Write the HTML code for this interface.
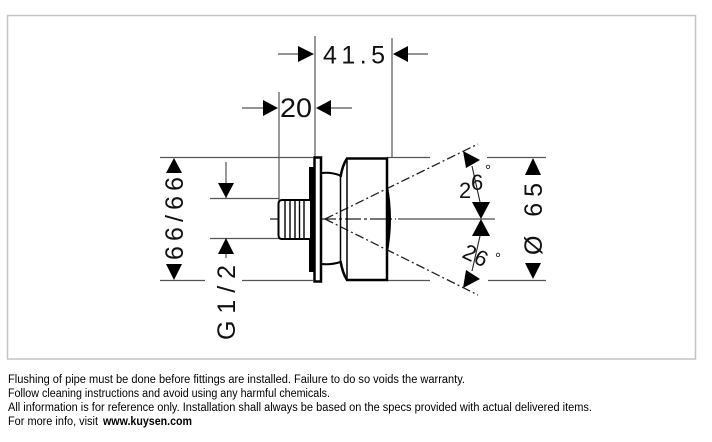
<!DOCTYPE html>
<html><head><meta charset="utf-8"><style>
html,body{margin:0;padding:0;background:#fff;width:712px;height:442px;overflow:hidden}
svg{display:block}
</style></head><body>
<svg width="712" height="442" viewBox="0 0 712 442" xmlns="http://www.w3.org/2000/svg">
<rect x="7.5" y="15.5" width="688" height="343.5" fill="#fff" stroke="#c4c4c4" stroke-width="1.5"/>

<!-- extension / dimension lines -->
<g stroke="#555" stroke-width="1.2" fill="none">
  <line x1="160" y1="157.5" x2="313" y2="157.5"/>
  <line x1="387" y1="157.5" x2="430" y2="157.5"/>
  <line x1="487" y1="157.5" x2="546" y2="157.5"/>
  <line x1="160" y1="280.5" x2="205" y2="280.5"/>
  <line x1="242" y1="280.5" x2="313" y2="280.5"/>
  <line x1="387" y1="280.5" x2="430" y2="280.5"/>
  <line x1="488" y1="280.5" x2="546" y2="280.5"/>
  <line x1="210" y1="198.5" x2="279" y2="198.5"/>
  <line x1="210" y1="238.5" x2="279" y2="238.5"/>
  <line x1="279" y1="92" x2="279" y2="200"/>
  <line x1="315" y1="36" x2="315" y2="157"/>
  <line x1="392" y1="38" x2="392" y2="158"/>
  <line x1="278" y1="54" x2="300" y2="54"/>
  <line x1="405" y1="54" x2="428" y2="54"/>
  <line x1="242" y1="108" x2="264" y2="108"/>
  <line x1="328" y1="108" x2="352" y2="108"/>
  <line x1="226" y1="162" x2="226" y2="198"/>
  <line x1="226" y1="238" x2="226" y2="258"/>
</g>

<!-- arrowheads -->
<g fill="#000">
  <polygon points="314,54 298,46 298,62"/>
  <polygon points="393,54 408,46 408,62"/>
  <polygon points="278,108 263,100 263,116"/>
  <polygon points="316,108 331,100 331,116"/>
  <polygon points="174,158 166,173 182,173"/>
  <polygon points="174,280 166,264 182,264"/>
  <polygon points="226,198 218,183 234,183"/>
  <polygon points="226,238 218,254 234,254"/>
  <polygon points="533,158 525,175 541,175"/>
  <polygon points="533,279 525,263 541,263"/>
  <polygon points="481,219 472,202 490,202"/>
  <polygon points="481,219 472,236 490,236"/>
  <polygon points="463,151 480,160 466,168"/>
  <polygon points="463,288 480,279 466,270"/>
</g>

<!-- angle dimension lines -->
<g stroke="#222" stroke-width="1.1" fill="none">
  <line x1="472" y1="166" x2="480" y2="202"/>
  <line x1="480" y1="236" x2="472" y2="271"/>
  <line x1="398" y1="219" x2="495" y2="219"/>
</g>

<!-- dashed construction lines -->
<g stroke="#222" stroke-width="1.3" fill="none">
  <line x1="325" y1="219" x2="478" y2="144" stroke-dasharray="9 3 2 3"/>
  <line x1="325" y1="219" x2="478" y2="295" stroke-dasharray="9 3 2 3"/>
  <line x1="270" y1="219" x2="396" y2="219" stroke-dasharray="16 3 3 3"/>
</g>

<!-- object -->
<g stroke="#000" fill="none">
  <rect x="309" y="167" width="4.5" height="105" fill="#000" stroke="none"/>
  <rect x="314.5" y="157.5" width="6.5" height="124" fill="#fff" stroke-width="2.5"/>
  <path d="M310,200 L282,200 Q278.5,200 278.5,204 L278.5,235 Q278.5,239 282,239 L310,239" fill="#fff" stroke-width="2"/>
  <g stroke-width="1.4">
    <line x1="285" y1="201" x2="285" y2="238"/>
    <line x1="290" y1="201" x2="290" y2="238"/>
    <line x1="295" y1="201" x2="295" y2="238"/>
    <line x1="299.5" y1="201" x2="299.5" y2="238"/>
    <line x1="304" y1="201" x2="304" y2="238"/>
  </g>
  <path d="M322,173 Q331,172 340.5,175.5" stroke-width="2"/>
  <path d="M322,264 Q331,265 340.5,262" stroke-width="2"/>
  <line x1="340.5" y1="175" x2="340.5" y2="263" stroke-width="1.5"/>
  <path d="M340.5,177 Q342.5,165 347,158.5 L387,158.5 L387,280 L347,280 Q342.5,273 340.5,261" stroke-width="2.5"/>
  <line x1="347" y1="158.5" x2="347" y2="280" stroke-width="1.5"/>
  <path d="M387,181 Q395,219 387,257 Z" fill="#000" stroke="none"/>
</g>

<!-- dimension text -->
<g font-family="Liberation Sans, Arial, sans-serif" fill="#111">
  <text x="323" y="63.5" font-size="25" textLength="62" lengthAdjust="spacing">41.5</text>
  <text x="280" y="117" font-size="27" textLength="32" lengthAdjust="spacingAndGlyphs">20</text>
  <text transform="translate(183,260) rotate(-90)" font-size="25" textLength="83" lengthAdjust="spacing">66/66</text>
  <text transform="translate(235,340) rotate(-90)" font-size="25" textLength="75" lengthAdjust="spacing">G1/2</text>
  <text transform="translate(542,255) rotate(-90)" font-size="25" textLength="72" lengthAdjust="spacing">Ø 65</text>
  <text x="459" y="198" font-size="22">2</text>
  <text x="471" y="190" font-size="22">6</text>
  <text x="485" y="175" font-size="15">°</text>
  <text transform="translate(461,257) rotate(25)" font-size="22" textLength="25" lengthAdjust="spacing">26</text>
  <text x="495" y="263" font-size="15">°</text>
</g>

<!-- footer text -->
<g font-family="Liberation Sans, Arial, sans-serif" font-size="11.5" fill="#000">
  <text x="8" y="383" textLength="457" lengthAdjust="spacingAndGlyphs">Flushing of pipe must be done before fittings are installed. Failure to do so voids the warranty.</text>
  <text x="8" y="397" textLength="322" lengthAdjust="spacingAndGlyphs">Follow cleaning instructions and avoid using any harmful chemicals.</text>
  <text x="8" y="411" textLength="584" lengthAdjust="spacingAndGlyphs">All information is for reference only. Installation shall always be based on the specs provided with actual delivered items.</text>
  <text x="8" y="425" textLength="90" lengthAdjust="spacingAndGlyphs">For more info, visit</text>
  <text x="103" y="425" font-weight="bold" textLength="89" lengthAdjust="spacingAndGlyphs">www.kuysen.com</text>
</g>
</svg>
</body></html>
